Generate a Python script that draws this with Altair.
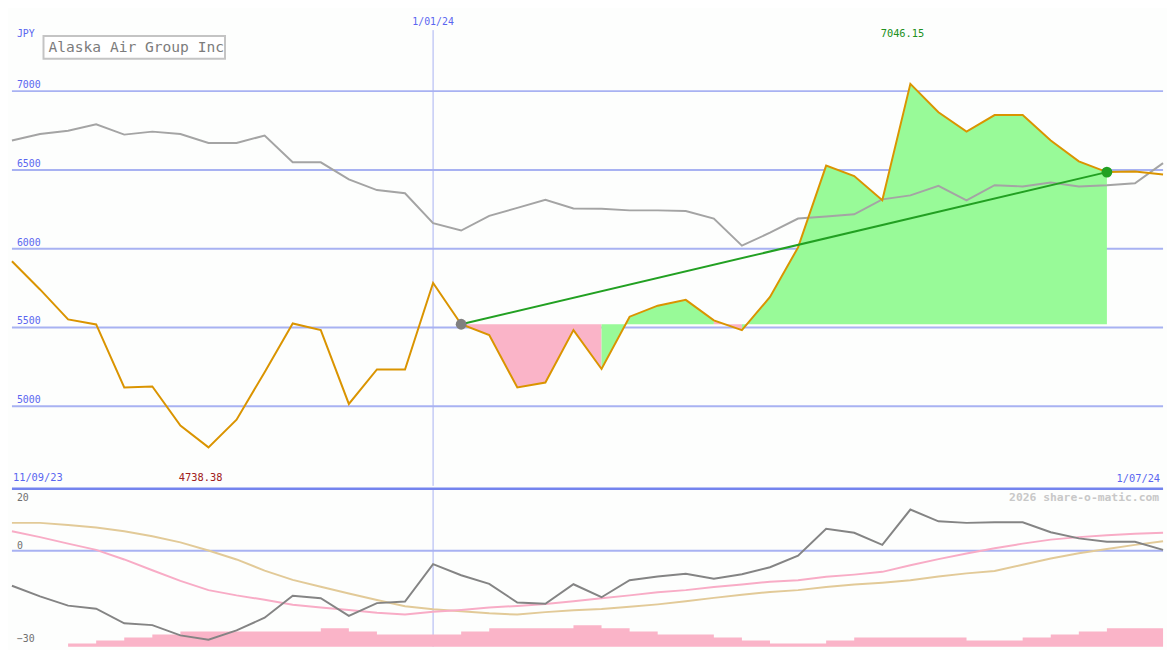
import altair as alt
import pandas as pd

# ---------------- data ----------------
title = "Alaska Air Group Inc"
currency = "JPY"
watermark = "2026 share-o-matic.com"
date_labels = ["11/09/23", "1/01/24", "1/07/24"]
date_index = [0, 15, 41]

price = [5920, 5741, 5551, 5519, 5119, 5125, 4877, 4738.38, 4914, 5216,
         5525, 5483, 5014, 5233, 5233, 5782, 5520, 5451, 5119, 5150,
         5483, 5236, 5568, 5638, 5675, 5545, 5483, 5693, 6008, 6527,
         6461, 6307, 7046.15, 6866, 6743, 6848, 6848, 6687, 6554, 6486,
         6490, 6471]
compare = [6687, 6728, 6749, 6790, 6724, 6743, 6728, 6671, 6671, 6718,
           6548, 6548, 6440, 6372, 6352, 6162, 6115, 6208, 6259, 6310,
           6255, 6253, 6243, 6243, 6239, 6191, 6019, 6101, 6191, 6204,
           6218, 6313, 6338, 6399, 6307, 6403, 6395, 6420, 6395, 6403,
           6415, 6543]
momentum = [-11.3, -14.7, -17.7, -18.7, -23.4, -24.0, -27.3, -28.7, -25.7, -21.6,
            -14.5, -15.3, -21.0, -16.9, -16.4, -4.3, -7.9, -10.7, -16.7, -17.1,
            -10.8, -15.0, -9.5, -8.3, -7.4, -9.0, -7.6, -5.3, -1.6, 7.1,
            5.8, 1.9, 13.3, 9.5, 9.0, 9.2, 9.2, 6.0, 4.0, 2.9,
            2.9, 0.3]
ma_fast = [6.3, 4.4, 2.3, 0.3, -2.8, -6.3, -9.7, -12.7, -14.4, -15.8,
           -17.4, -18.3, -19.1, -20.0, -20.6, -19.7, -19.1, -18.3, -17.8, -17.2,
           -16.3, -15.3, -14.4, -13.4, -12.7, -11.7, -10.9, -10.0, -9.5, -8.4,
           -7.7, -6.8, -4.7, -2.7, -0.9, 0.8, 2.3, 3.6, 4.4, 5.0,
           5.5, 5.8]
ma_slow = [9.0, 9.0, 8.3, 7.5, 6.3, 4.7, 2.7, 0.1, -2.8, -6.4,
           -9.4, -11.6, -13.8, -15.9, -17.9, -18.9, -19.5, -20.2, -20.6, -19.8,
           -19.2, -18.8, -18.1, -17.3, -16.3, -15.2, -14.2, -13.3, -12.7, -11.7,
           -10.9, -10.3, -9.5, -8.3, -7.3, -6.5, -4.5, -2.5, -0.8, 0.6,
           1.9, 3.1]
volume = [0, 0, 1, 2, 3, 4, 5, 5, 5, 5, 5, 6, 5, 4, 4, 4, 5, 6, 6, 6, 7,
          6, 5, 4, 4, 3, 2, 1, 1, 2, 3, 3, 3, 3, 2, 2, 3, 4, 5, 6, 6]
price_ticks = [5000, 5500, 6000, 6500, 7000]
osc_top_tick = [20]
osc_ticks = [0, -30]
base_index = 16
end_index = 39

# ---------------- style ----------------
W, H1, H2 = 1167, 480, 160
BG = "#fdfefd"
MONO = "DejaVu Sans Mono"
GRID = "#a8b2f2"
SEP = "#7484ee"
BLUE_TXT = "#5a66f0"
GREEN_FILL = "#98fa98"
PINK_FILL = "#fab4c8"

n = len(price)
df = pd.DataFrame({"i": list(range(n)), "price": price, "compare": compare,
                   "mom": momentum, "fast": ma_fast, "slow": ma_slow})

xs = alt.Scale(domain=[0, n - 1], nice=False, zero=False)
ys = alt.Scale(domain=[4494, 7500], nice=False, zero=False)
os_ = alt.Scale(domain=[-30.94, 20], nice=False, zero=False)
vs = alt.Scale(domain=[0, 51.75], nice=False, zero=False)

X = alt.X("i:Q", scale=xs, axis=None)

# ---------------- upper panel ----------------
grid_df = pd.DataFrame({"v": price_ticks})
grid = alt.Chart(grid_df).mark_rule(color=GRID, strokeWidth=2).encode(
    y=alt.Y("v:Q", scale=ys, axis=None))
grid_lbl = alt.Chart(grid_df).mark_text(
    font=MONO, fontSize=10, color=BLUE_TXT, align="left", baseline="alphabetic", dy=-3
).encode(x=alt.value(5), y=alt.Y("v:Q", scale=ys, axis=None), text="v:Q")

year_df = pd.DataFrame({"i": [date_index[1]]})
year_u = alt.Chart(year_df).mark_rule(color=GRID, strokeWidth=1).encode(
    x=X, y=alt.value(18), y2=alt.value(H1))

# gain / loss fill: each segment is coloured by where it ends; consecutive
# segments of the same colour are merged into one run
baseline = price[base_index]
rows = []
run = -1
prev = None
for s in range(base_index, end_index):
    d = "up" if price[s + 1] >= baseline else "down"
    if d != prev:
        run += 1
        prev = d
        rows.append({"run": run, "i": s, "price": price[s], "base": baseline, "dir": d})
    rows.append({"run": run, "i": s + 1, "price": price[s + 1], "base": baseline, "dir": d})
fill_df = pd.DataFrame(rows)

fill_up = alt.Chart(fill_df[fill_df["dir"] == "up"]).mark_area(
    opacity=1, strokeWidth=0, color=GREEN_FILL).encode(
    x=X, y=alt.Y("price:Q", scale=ys, axis=None), y2="base:Q", detail="run:N")
fill_dn = alt.Chart(fill_df[fill_df["dir"] == "down"]).mark_area(
    opacity=1, strokeWidth=0, color=PINK_FILL).encode(
    x=X, y=alt.Y("price:Q", scale=ys, axis=None), y2="base:Q", detail="run:N")

comp_line = alt.Chart(df).mark_line(color="#a4a4a4", strokeWidth=2).encode(
    x=X, y=alt.Y("compare:Q", scale=ys, axis=None))
price_line = alt.Chart(df).mark_line(color="#da9400", strokeWidth=2).encode(
    x=X, y=alt.Y("price:Q", scale=ys, axis=None))

trend_df = pd.DataFrame({"i": [base_index, end_index],
                         "price": [price[base_index], price[end_index]]})
trend = alt.Chart(trend_df).mark_line(color="#22a022", strokeWidth=2).encode(
    x=X, y=alt.Y("price:Q", scale=ys, axis=None))
dot_start = alt.Chart(trend_df.iloc[[0]]).mark_circle(size=120, opacity=1, color="#808080").encode(
    x=X, y=alt.Y("price:Q", scale=ys, axis=None))
dot_end = alt.Chart(trend_df.iloc[[1]]).mark_circle(size=120, opacity=1, color="#22a022").encode(
    x=X, y=alt.Y("price:Q", scale=ys, axis=None))

one = pd.DataFrame({"t": [title]})
box = alt.Chart(one).mark_rect(fill="white", stroke="#c4c4c4", strokeWidth=2).encode(
    x=alt.value(32), x2=alt.value(216), y=alt.value(24), y2=alt.value(47))
title_t = alt.Chart(one).mark_text(
    font=MONO, fontSize=14.8, color="#7c7c7c", align="left", baseline="alphabetic"
).encode(x=alt.value(37), y=alt.value(40.5), text="t:N")
jpy = alt.Chart(pd.DataFrame({"t": [currency]})).mark_text(
    font=MONO, fontSize=10, color=BLUE_TXT, align="left", baseline="alphabetic"
).encode(x=alt.value(5), y=alt.value(24.5), text="t:N")

dl = pd.DataFrame({"i": date_index, "t": date_labels})
d_start = alt.Chart(dl.iloc[[0]]).mark_text(
    font=MONO, fontSize=10.5, color=BLUE_TXT, align="left", baseline="alphabetic", dx=1
).encode(x=X, y=alt.value(475.5), text="t:N")
d_mid = alt.Chart(dl.iloc[[1]]).mark_text(
    font=MONO, fontSize=10, color=BLUE_TXT, align="center", baseline="alphabetic"
).encode(x=X, y=alt.value(13), text="t:N")
d_end = alt.Chart(dl.iloc[[2]]).mark_text(
    font=MONO, fontSize=10.5, color=BLUE_TXT, align="right", baseline="alphabetic", dx=-3
).encode(x=X, y=alt.value(476), text="t:N")

imin = price.index(min(price))
imax = price.index(max(price))
ext = pd.DataFrame({"i": [imin, imax],
                    "t": [f"{price[imin]:.2f}", f"{price[imax]:.2f}"]})
min_t = alt.Chart(ext.iloc[[0]]).mark_text(
    font=MONO, fontSize=10.5, color="#a02020", align="center", baseline="alphabetic", dx=-8
).encode(x=X, y=alt.value(475.5), text="t:N")
max_t = alt.Chart(ext.iloc[[1]]).mark_text(
    font=MONO, fontSize=10.5, color="#209020", align="center", baseline="alphabetic", dx=-8
).encode(x=X, y=alt.value(24.5), text="t:N")

upper = alt.layer(grid, year_u, fill_dn, fill_up, comp_line, price_line, trend,
                  dot_start, dot_end, grid_lbl, jpy, box, title_t,
                  d_start, d_mid, d_end, min_t, max_t
                  ).properties(width=W, height=H1)

# ---------------- lower panel ----------------
year_l = alt.Chart(year_df).mark_rule(color=GRID, strokeWidth=1).encode(
    x=X, y=alt.value(0), y2=alt.value(H2))
vol_step = volume + [volume[-1]]
vdf = pd.DataFrame({"i": list(range(len(vol_step))), "vol": vol_step})
bars = alt.Chart(vdf).mark_area(color=PINK_FILL, opacity=1, interpolate="step-after").encode(
    x=X, y=alt.Y("vol:Q", scale=vs, axis=None))
zero_df = pd.DataFrame({"v": [0]})
zero = alt.Chart(zero_df).mark_rule(color=GRID, strokeWidth=2).encode(
    y=alt.Y("v:Q", scale=os_, axis=None))
slow_l = alt.Chart(df).mark_line(color="#e2ca98", strokeWidth=2).encode(
    x=X, y=alt.Y("slow:Q", scale=os_, axis=None))
fast_l = alt.Chart(df).mark_line(color="#f8acc6", strokeWidth=2).encode(
    x=X, y=alt.Y("fast:Q", scale=os_, axis=None))
mom_l = alt.Chart(df).mark_line(color="#848484", strokeWidth=2).encode(
    x=X, y=alt.Y("mom:Q", scale=os_, axis=None))
sep = alt.Chart(zero_df).mark_rule(color=SEP, strokeWidth=2.5).encode(
    y=alt.value(0))
top_lbl = alt.Chart(pd.DataFrame({"v": osc_top_tick})).mark_text(
    font=MONO, fontSize=10, color="#707070", align="left", baseline="alphabetic", dy=12
).encode(x=alt.value(5), y=alt.Y("v:Q", scale=os_, axis=None), text="v:Q")
o_lbl = alt.Chart(pd.DataFrame({"v": osc_ticks})).mark_text(
    font=MONO, fontSize=10, color="#707070", align="left", baseline="alphabetic", dy=-2
).encode(x=alt.value(5), y=alt.Y("v:Q", scale=os_, axis=None), text="v:Q")
wm = alt.Chart(pd.DataFrame({"t": [watermark]})).mark_text(
    font=MONO, fontSize=11.5, fontWeight="bold", color="#c8c8c8", align="right",
    baseline="alphabetic"
).encode(x=alt.value(W - 4), y=alt.value(12.8), text="t:N")

lower = alt.layer(year_l, bars, zero, slow_l, fast_l, mom_l, sep, top_lbl, o_lbl, wm
                  ).resolve_scale(y="independent").properties(width=W, height=H2)

chart = alt.vconcat(upper, lower, spacing=0).properties(
    padding=0, background=BG
).configure_view(strokeWidth=0).configure_concat(spacing=0)

chart.save("out.html", embed_options={"renderer": "svg", "actions": False})
